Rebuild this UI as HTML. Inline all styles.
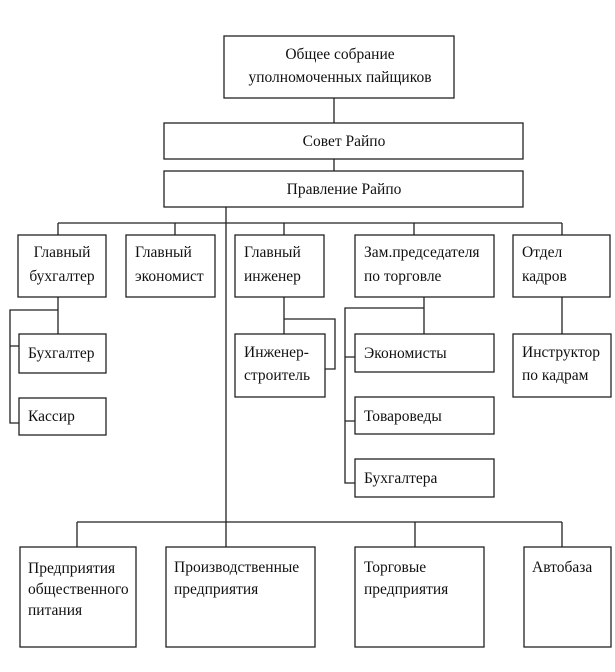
<!DOCTYPE html>
<html><head><meta charset="utf-8"><style>
html,body{margin:0;padding:0;background:#fff;}
svg{display:block;}
text{font-family:"Liberation Serif","Noto Serif CJK SC",serif;font-size:15.5px;fill:#111;}
</style></head><body>
<svg width="615" height="672" viewBox="0 0 615 672" xmlns="http://www.w3.org/2000/svg">
<g fill="none" stroke="#222" stroke-width="1.3">
<rect x="224" y="36" width="230" height="62"/>
<rect x="164" y="123" width="359" height="36"/>
<rect x="164" y="171" width="359" height="36"/>
<rect x="18" y="235" width="88" height="62"/>
<rect x="126" y="235" width="89" height="62"/>
<rect x="235" y="235" width="89" height="62"/>
<rect x="355" y="235" width="139" height="62"/>
<rect x="513" y="235" width="97" height="62"/>
<rect x="19" y="334" width="87" height="39"/>
<rect x="19" y="398" width="87" height="37"/>
<rect x="235" y="334" width="90" height="63"/>
<rect x="355" y="334" width="139" height="38"/>
<rect x="355" y="397" width="139" height="37"/>
<rect x="355" y="459" width="139" height="38"/>
<rect x="513" y="334" width="98" height="63"/>
<rect x="20" y="547" width="116" height="100"/>
<rect x="166" y="547" width="149" height="100"/>
<rect x="355" y="547" width="129" height="100"/>
<rect x="524" y="547" width="87" height="100"/>
<path d="M334 98V123M334 159V171M226 207V547M58 223H562M58 223V235M175 223V235M284 223V235M414 223V235M562 223V235"/>
<path d="M58 297V334M58 310H10V423H19M10 346H19"/>
<path d="M284 297V334M284 319H335V369H325"/>
<path d="M424 297V334M424 308H345V483H355M345 357H355M345 421H355"/>
<path d="M562 297V334"/>
<path d="M77 522H562M77 522V547M415 522V547M562 522V547"/>
</g>
<text x="340" y="59" text-anchor="middle">Общее собрание</text>
<text x="340" y="82" text-anchor="middle">уполномоченных пайщиков</text>
<text x="344" y="146" text-anchor="middle">Совет Райпо</text>
<text x="344" y="194" text-anchor="middle">Правление Райпо</text>
<text x="62" y="257" text-anchor="middle">Главный</text>
<text x="62" y="281" text-anchor="middle">бухгалтер</text>
<text x="135" y="257">Главный</text>
<text x="135" y="281">экономист</text>
<text x="244" y="257">Главный</text>
<text x="244" y="281">инженер</text>
<text x="364" y="257">Зам.председателя</text>
<text x="364" y="281">по торговле</text>
<text x="522" y="257">Отдел</text>
<text x="522" y="281">кадров</text>
<text x="28" y="358">Бухгалтер</text>
<text x="28" y="421">Кассир</text>
<text x="244" y="357">Инженер-</text>
<text x="244" y="380">строитель</text>
<text x="364" y="358">Экономисты</text>
<text x="364" y="421">Товароведы</text>
<text x="364" y="483">Бухгалтера</text>
<text x="522" y="357">Инструктор</text>
<text x="522" y="380">по кадрам</text>
<text x="28" y="573">Предприятия</text>
<text x="28" y="594">общественного</text>
<text x="28" y="615">питания</text>
<text x="174" y="572">Производственные</text>
<text x="174" y="594">предприятия</text>
<text x="364" y="572">Торговые</text>
<text x="364" y="594">предприятия</text>
<text x="532" y="572">Автобаза</text>
</svg>
</body></html>
